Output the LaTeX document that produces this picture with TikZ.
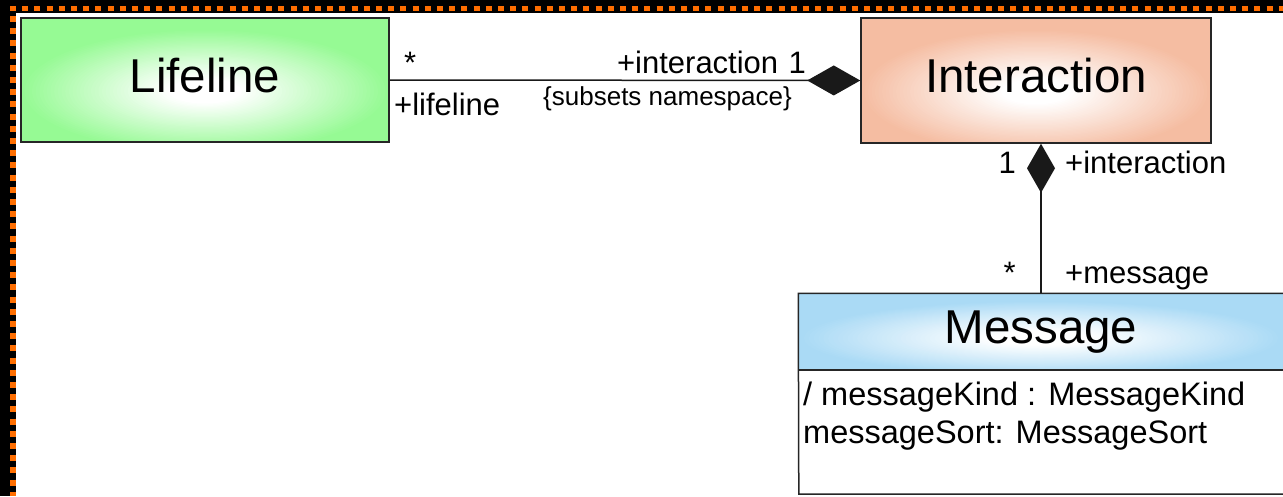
\documentclass[tikz,border=0pt]{standalone}
\usepackage{fontspec}
\setmainfont{Liberation Sans}
\usetikzlibrary{arrows.meta}
\definecolor{lifegreen}{RGB}{150,250,148}
\definecolor{intsalmon}{RGB}{245,189,162}
\definecolor{msgblue}{RGB}{170,218,245}
\definecolor{dotorange}{RGB}{255,110,0}
\pgfdeclarelayer{framelayer}
\pgfdeclarelayer{gradlayer}
\pgfsetlayers{framelayer,gradlayer,main}
\newcommand\radgrad[4]{%
  \begin{scope}
  \clip (#1.south west) rectangle (#1.north east);
  \fill[#2] (#1.south west) rectangle (#1.north east);
  \foreach \i in {1,...,40}{%
    \pgfmathsetmacro\kk{1.0-0.8*\i/40}%
    \pgfmathsetmacro\pp{100-100*\i/40}%
    \fill[#2!\pp!white] ([yshift={-0.18*#4pt}]#1.center) ellipse [x radius={\kk*#3pt}, y radius={\kk*#4pt}];
  }
  \end{scope}}
\tikzset{
  classbox/.style={rectangle, draw=black!85, line width=1.5pt, inner sep=0pt,
    font=\fontsize{47.5}{50}\selectfont, text height=34pt, text depth=10pt},
  lbl/.style={inner sep=0pt, font=\fontsize{31}{36}\selectfont},
  attrfont/.style={inner sep=0pt, font=\fontsize{32.5}{38}\selectfont},
  small/.style={inner sep=0pt, font=\fontsize{26}{30}\selectfont},
  assoc/.style={line width=1.5pt, draw=black!90},
  dotrow/.style={line width=5.5pt, draw=dotorange, dash pattern=on 6pt off 6.2pt},
}
\begin{document}
\begin{tikzpicture}[x=1pt,y=1pt]
\useasboundingbox (0,-496) rectangle (1283,0);
\clip (0,-496) rectangle (1283,0);
\begin{pgfonlayer}{framelayer}
\fill[black] (0,-496) rectangle (1283,0);
\fill[white] (16,-496) rectangle (1283,-13);
\draw[dotrow] (10,-8.5) -- (1283,-8.5);
\draw[dotrow] (13,-16) -- (13,-496);
\end{pgfonlayer}
% classes
\node[classbox, minimum width=368pt, minimum height=124pt] (life) at (205,-80) {Lifeline};
\node[classbox, minimum width=350pt, minimum height=125pt] (int) at (1036,-80.5) {Interaction};
\node[classbox, draw=none, minimum width=484pt, minimum height=75pt] (hdr) at (1041,-331.5) {Message};
\node[rectangle, inner sep=0pt, minimum width=484pt, minimum height=124pt, anchor=north] (attr) at (hdr.south) {};
\begin{pgfonlayer}{gradlayer}
\radgrad{life}{lifegreen}{184}{62}
\radgrad{int}{intsalmon}{175}{62.5}
\radgrad{hdr}{msgblue}{242}{37.5}
\end{pgfonlayer}
\draw[line width=1.5pt, draw=black!85] (hdr.north east) -- (hdr.north west) -- (attr.south west) -- (attr.south east);
\draw[line width=1.5pt, draw=black!85] (hdr.south west) -- (hdr.south east);
\node[attrfont, anchor=base west] (attr1) at (803,-405) {/ messageKind : MessageKind};
\node[attrfont, anchor=base west] (attr2) at (803,-443) {messageSort: MessageSort};
% associations
\draw[assoc, -{Diamond[length=53pt, width=30pt]}] (life.east) -- (int.west);
\draw[assoc, -{Diamond[length=49pt, width=28pt]}] (hdr.north) -- (hdr.north |- int.south);
% labels
\node[lbl, anchor=base west] (lstar) at (404,-73) {*};
\node[lbl, anchor=base east] (lint) at (806,-73) {+interaction\,\,1};
\node[lbl, anchor=base west] (llife) at (394,-115) {+lifeline};
\node[small, anchor=base west] (lsub) at (543,-105) {\{subsets namespace\}};
\node[lbl, anchor=base east] (lone) at (1016,-173) {1};
\node[lbl, anchor=base west] (lint2) at (1065,-173) {+interaction};
\node[lbl, anchor=base east] (lstar2) at (1016,-283) {*};
\node[lbl, anchor=base west] (lmsg) at (1065,-283) {+message};
\end{tikzpicture}
\end{document}
